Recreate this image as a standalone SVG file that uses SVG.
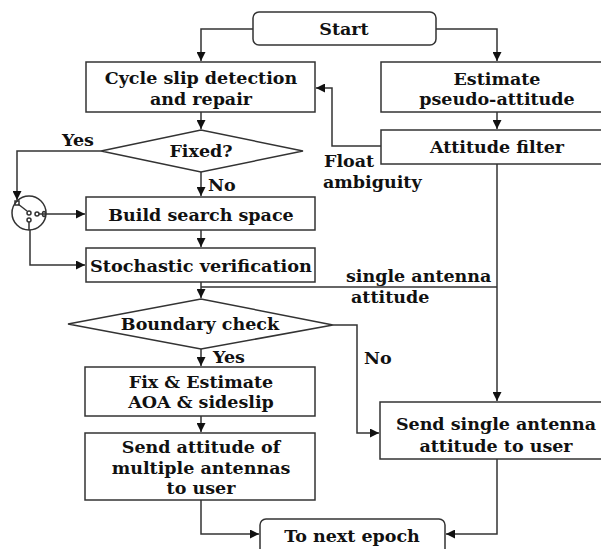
<svg xmlns="http://www.w3.org/2000/svg" width="601" height="549" viewBox="0 0 601 549">
<style>
.box{fill:#fff;stroke:#333;stroke-width:1.5}
.ln{fill:none;stroke:#333;stroke-width:1.5}
.t{font-family:"DejaVu Serif","Liberation Serif",serif;font-weight:bold;font-size:17.5px;fill:#111;text-anchor:middle}
.l{font-family:"DejaVu Serif","Liberation Serif",serif;font-weight:bold;font-size:17.5px;fill:#111}
</style>
<defs>
<marker id="a" viewBox="0 0 10 10" refX="10" refY="5" markerWidth="9" markerHeight="9" markerUnits="userSpaceOnUse" orient="auto">
<path d="M0,0 L10,5 L0,10 z" fill="#111"/>
</marker>
</defs>
<rect width="601" height="549" fill="#fff"/>
<g id="connectors">
<path class="ln" d="M253,29 H201 V61" marker-end="url(#a)"/>
<path class="ln" d="M436,29 H497 V61" marker-end="url(#a)"/>
<path class="ln" d="M201,112 V129" marker-end="url(#a)"/>
<path class="ln" d="M497,112 V129" marker-end="url(#a)"/>
<path class="ln" d="M381,146 H332 V88 H316" marker-end="url(#a)"/>
<path class="ln" d="M101,151 H17 V200" marker-end="url(#a)"/>
<path class="ln" d="M201,172 V196" marker-end="url(#a)"/>
<path class="ln" d="M47,214 H85" marker-end="url(#a)"/>
<path class="ln" d="M30,230 V265 H85" marker-end="url(#a)"/>
<path class="ln" d="M201,230 V247" marker-end="url(#a)"/>
<path class="ln" d="M201,282 V298" marker-end="url(#a)"/>
<path class="ln" d="M497,164 V401" marker-end="url(#a)"/>
<path class="ln" d="M497,287 H201"/>
<path class="ln" d="M333,325 H357 V433 H379" marker-end="url(#a)"/>
<path class="ln" d="M201,349 V366" marker-end="url(#a)"/>
<path class="ln" d="M201,416 V432" marker-end="url(#a)"/>
<path class="ln" d="M201,500 V534 H259" marker-end="url(#a)"/>
<path class="ln" d="M497,459 V534 H446" marker-end="url(#a)"/>
</g>
<g id="switch">
<circle cx="29" cy="213" r="17" class="ln"/>
<rect x="15" y="201" width="4" height="4" class="ln" stroke-width="1.2"/>
<path class="ln" d="M18,204 L27,211" stroke-width="1.2"/>
<circle cx="29" cy="213" r="2" class="ln" stroke-width="1.2"/>
<circle cx="29" cy="220" r="2" class="ln" stroke-width="1.2"/>
<circle cx="37" cy="214" r="2" class="ln" stroke-width="1.2"/>
<path class="ln" d="M39,214 H47 M29,222 V230" stroke-width="1.2"/>
<ellipse cx="44" cy="214" rx="1.5" ry="2.5" class="ln" stroke-width="1.2"/>
</g>
<g id="start">
<rect class="box" x="253" y="12" width="183" height="33" rx="6"/>
<text class="t" x="344" y="35">Start</text>
</g>
<g id="cycle-slip">
<rect class="box" x="86" y="62" width="229" height="50"/>
<text class="t" x="201" y="84">Cycle slip detection</text>
<text class="t" x="201" y="105">and repair</text>
</g>
<g id="estimate">
<rect class="box" x="381" y="62" width="232" height="50"/>
<text class="t" x="497" y="85">Estimate</text>
<text class="t" x="497" y="105">pseudo-attitude</text>
</g>
<g id="attitude-filter">
<rect class="box" x="381" y="130" width="232" height="34"/>
<text class="t" x="497" y="153">Attitude filter</text>
</g>
<g id="fixed">
<polygon class="box" points="101,151 201,130 303,151 201,172"/>
<text class="t" x="201" y="157">Fixed?</text>
</g>
<g id="labels">
<text class="l" x="62" y="146">Yes</text>
<text class="l" x="208" y="191">No</text>
<text class="l" x="324" y="167">Float</text>
<text class="l" x="323" y="188">ambiguity</text>
<text class="l" x="346" y="282">single antenna</text>
<text class="l" x="351" y="303">attitude</text>
<text class="l" x="213" y="363">Yes</text>
<text class="l" x="364" y="364">No</text>
</g>
<g id="build">
<rect class="box" x="86" y="197" width="229" height="33"/>
<text class="t" x="201" y="221">Build search space</text>
</g>
<g id="stochastic">
<rect class="box" x="86" y="248" width="229" height="34"/>
<text class="t" x="201" y="272" textLength="222" lengthAdjust="spacingAndGlyphs">Stochastic verification</text>
</g>
<g id="boundary">
<polygon class="box" points="68,324 201,299 333,325 201,349"/>
<text class="t" x="200" y="330">Boundary check</text>
</g>
<g id="fix-estimate">
<rect class="box" x="85" y="367" width="230" height="49"/>
<text class="t" x="201" y="388">Fix &amp; Estimate</text>
<text class="t" x="201" y="408">AOA &amp; sideslip</text>
</g>
<g id="send-multi">
<rect class="box" x="85" y="433" width="230" height="67"/>
<text class="t" x="201" y="453">Send attitude of</text>
<text class="t" x="201" y="474">multiple antennas</text>
<text class="t" x="201" y="494">to user</text>
</g>
<g id="send-single">
<rect class="box" x="380" y="402" width="233" height="57"/>
<text class="t" x="496" y="430">Send single antenna</text>
<text class="t" x="496" y="452">attitude to user</text>
</g>
<g id="next-epoch">
<rect class="box" x="260" y="519" width="185" height="40" rx="6"/>
<text class="t" x="352" y="542">To next epoch</text>
</g>
</svg>
